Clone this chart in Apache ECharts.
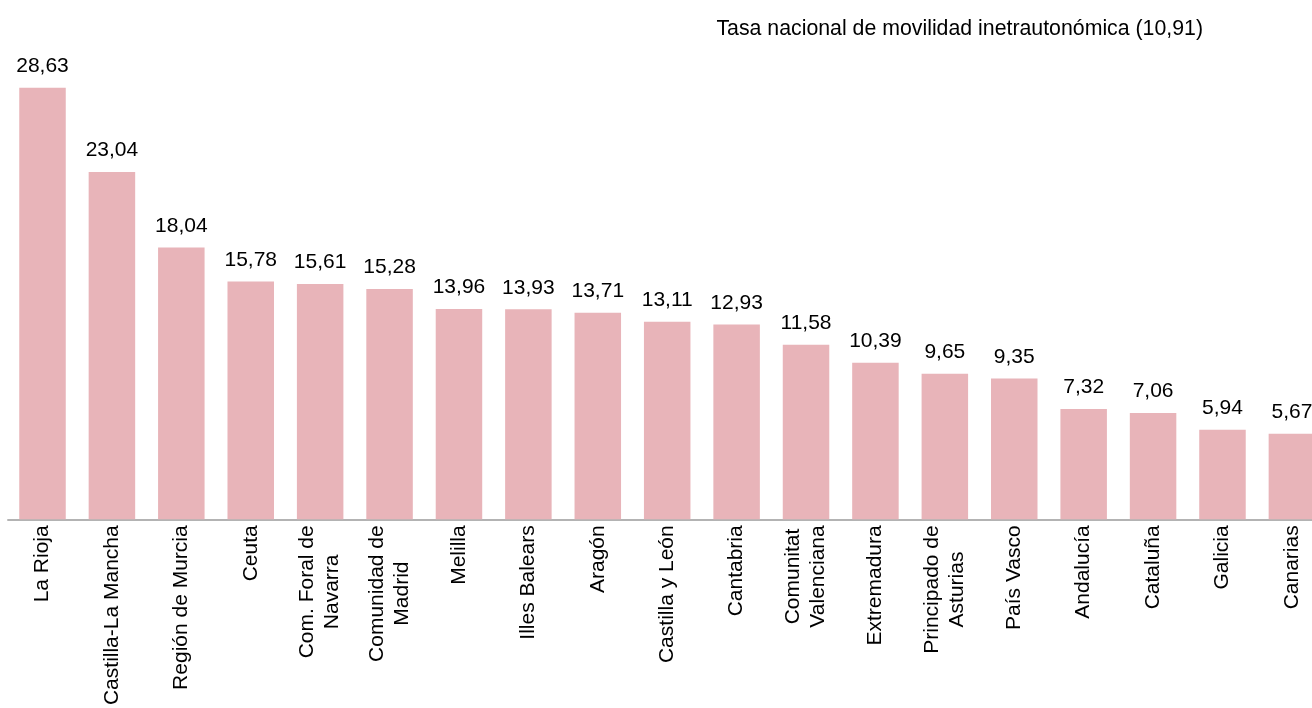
<!DOCTYPE html>
<html>
<head>
<meta charset="utf-8">
<script src="https://cdn.jsdelivr.net/npm/echarts@6/dist/echarts.min.js"></script>
<style>
  html, body { margin: 0; padding: 0; background: #fff; }
  #echarts { width: 1312px; height: 708px; }
</style>
</head>
<body>
<div id="echarts"></div>
<script>
const categories = [
    'La Rioja', 'Castilla-La Mancha', 'Región de Murcia', 'Ceuta',
    'Com. Foral de\nNavarra', 'Comunidad de\nMadrid', 'Melilla', 'Illes Balears',
    'Aragón', 'Castilla y León', 'Cantabria', 'Comunitat\nValenciana',
    'Extremadura', 'Principado de\nAsturias', 'País Vasco', 'Andalucía',
    'Cataluña', 'Galicia', 'Canarias'
];
const values = [
    28.63, 23.04, 18.04, 15.78, 15.61, 15.28, 13.96, 13.93, 13.71, 13.11,
    12.93, 11.58, 10.39, 9.65, 9.35, 7.32, 7.06, 5.94, 5.67
];
const nationalRate = 10.91;

const font = '"Liberation Sans", Arial, sans-serif';

var chartDom = document.getElementById('echarts');
var myChart = echarts.init(chartDom);

function fmt(v) {
    return v.toFixed(2).replace('.', ',');
}

const option = {
    animation: false,
    title: {
        text: 'Tasa nacional de movilidad inetrautonómica (' + fmt(nationalRate) + ')',
        right: 104,
        top: 14,
        textStyle: {
            fontFamily: font,
            fontSize: 21.3,
            fontWeight: 'normal',
            color: '#000'
        }
    },
    grid: {
        left: 7.8,
        width: 1318.8,
        top: 67.2,
        height: 452.1,
        outerBoundsMode: 'none',
        containLabel: false
    },
    xAxis: {
        type: 'category',
        data: categories,
        axisTick: { show: false },
        axisLine: {
            lineStyle: { color: '#9a9a9a', width: 1.5 }
        },
        axisLabel: {
            interval: 0,
            rotate: 90,
            margin: 6,
            color: '#000',
            fontFamily: font,
            fontSize: 21,
            lineHeight: 25,
            formatter: function (value) {
                return value.split('\n').map(function (s) {
                    return '{c|' + s + '}';
                }).join('\n');
            },
            rich: {
                c: {
                    align: 'center',
                    fontFamily: font,
                    fontSize: 21,
                    lineHeight: 25,
                    color: '#000'
                }
            }
        }
    },
    yAxis: {
        type: 'value',
        min: 0,
        max: 30,
        show: false
    },
    series: [
        {
            type: 'bar',
            data: values,
            barCategoryGap: '33%',
            itemStyle: { color: '#e8b4b9' },
            label: {
                show: true,
                position: 'top',
                distance: 11,
                color: '#000',
                fontFamily: font,
                fontSize: 21,
                formatter: function (p) {
                    return fmt(p.value);
                }
            }
        }
    ]
};

myChart.setOption(option);
</script>
</body>
</html>
